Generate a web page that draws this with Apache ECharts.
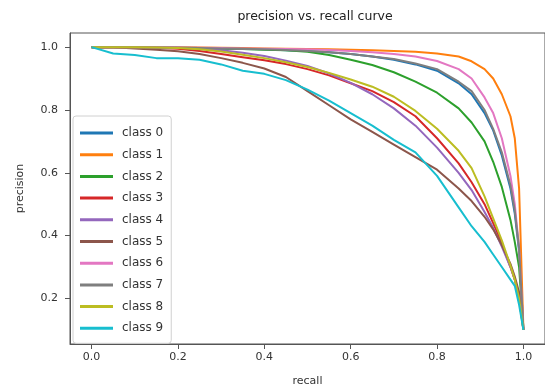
<!DOCTYPE html>
<html>
<head>
<meta charset="utf-8">
<script src="https://cdn.jsdelivr.net/npm/echarts@6/dist/echarts.min.js"></script>
<style>html,body{margin:0;padding:0;background:#fff}#c{width:545px;height:392px}</style>
</head>
<body>
<div id="c"></div>
<script>
const recall = [0, 0.05, 0.1, 0.15, 0.2, 0.25, 0.3, 0.35, 0.4, 0.45, 0.5, 0.55, 0.6, 0.65, 0.7, 0.75, 0.8, 0.85, 0.88, 0.91, 0.93, 0.95, 0.97, 0.98, 0.99, 1.0];
const class0 = [1,1,1,0.998,0.997,0.996,0.995,0.994,0.993,0.99,0.988,0.984,0.978,0.97,0.96,0.945,0.925,0.885,0.85,0.79,0.735,0.655,0.55,0.47,0.35,0.1];
const class1 = [1,1,1,1,1,0.999,0.998,0.997,0.996,0.995,0.994,0.993,0.992,0.99,0.988,0.985,0.98,0.97,0.955,0.93,0.9,0.85,0.78,0.71,0.55,0.1];
const class2 = [1,1,1,0.999,0.998,0.997,0.996,0.994,0.992,0.99,0.985,0.975,0.96,0.943,0.92,0.89,0.855,0.805,0.76,0.7,0.635,0.555,0.45,0.38,0.3,0.1];
const class3 = [1,1,0.999,0.998,0.995,0.988,0.978,0.968,0.958,0.946,0.93,0.91,0.885,0.86,0.825,0.78,0.71,0.63,0.57,0.5,0.44,0.375,0.3,0.26,0.2,0.1];
const class4 = [1,1,1,0.999,0.998,0.995,0.99,0.982,0.972,0.957,0.94,0.916,0.886,0.85,0.805,0.75,0.68,0.6,0.545,0.475,0.425,0.365,0.3,0.26,0.21,0.1];
const class5 = [1,1,0.996,0.992,0.987,0.978,0.965,0.95,0.932,0.905,0.86,0.815,0.77,0.73,0.69,0.65,0.61,0.55,0.51,0.46,0.42,0.37,0.31,0.27,0.22,0.1];
const class6 = [1,1,1,1,0.999,0.998,0.997,0.996,0.995,0.994,0.993,0.991,0.988,0.984,0.978,0.97,0.956,0.93,0.9,0.84,0.79,0.71,0.59,0.5,0.36,0.1];
const class7 = [1,1,1,0.999,0.998,0.997,0.996,0.995,0.993,0.991,0.988,0.984,0.978,0.97,0.962,0.948,0.93,0.89,0.86,0.8,0.74,0.665,0.56,0.48,0.36,0.1];
const class8 = [1,1,1,0.999,0.997,0.993,0.986,0.976,0.965,0.952,0.937,0.918,0.897,0.874,0.842,0.797,0.74,0.67,0.615,0.525,0.455,0.385,0.305,0.26,0.2,0.1];
const class9 = [1,0.98,0.975,0.965,0.965,0.96,0.945,0.925,0.915,0.895,0.865,0.83,0.79,0.75,0.705,0.665,0.59,0.49,0.43,0.38,0.34,0.3,0.26,0.24,0.18,0.1];

const names = ['class 0','class 1','class 2','class 3','class 4','class 5','class 6','class 7','class 8','class 9'];
const precisions = [class0,class1,class2,class3,class4,class5,class6,class7,class8,class9];
const colors = ['#1f77b4','#ff7f0e','#2ca02c','#d62728','#9467bd','#8c564b','#e377c2','#7f7f7f','#bcbd22','#17becf'];
const xTicks = [0, 0.2, 0.4, 0.6, 0.8, 1.0];
const yTicks = [0.2, 0.4, 0.6, 0.8, 1.0];

const font = 'DejaVu Sans';
const chart = echarts.init(document.getElementById('c'), null, {renderer:'canvas'});
chart.setOption({
  animation: false,
  color: colors,
  title: {
    text: 'precision vs. recall curve',
    left: 310, top: 5, textAlign: 'center',
    textStyle: {fontFamily: font, fontSize: 12.5, fontWeight: 'normal', color: '#222'}
  },
  legend: {
    orient: 'vertical', left: 73, top: 116,
    data: names,
    icon: 'rect', itemWidth: 33, itemHeight: 3, itemGap: 5.7,
    padding: [9, 8, 7, 7],
    backgroundColor: 'rgba(255,255,255,0.85)',
    borderColor: '#d0d0d0', borderWidth: 1, borderRadius: 3,
    textStyle: {fontFamily: font, fontSize: 12, color: '#333', lineHeight: 16, padding: [0,0,0,4]}
  },
  grid: {left: 70, top: 33, width: 480, height: 317, show: true, borderColor: '#555', borderWidth: 1},
  xAxis: {
    type: 'value', min: -0.05, max: 1.05,
    name: 'recall', nameLocation: 'middle', nameGap: 32,
    nameTextStyle: {fontFamily: font, fontSize: 11, color: '#333'},
    axisLine: {show: true, onZero: false, lineStyle: {color: '#555'}},
    axisTick: {show: true, length: 5, customValues: xTicks, lineStyle: {color: '#555'}},
    axisLabel: {customValues: xTicks, margin: 8, fontFamily: font, fontSize: 11, color: '#333', formatter: v => v.toFixed(1)},
    splitLine: {show: false}
  },
  yAxis: {
    type: 'value', min: 0.055, max: 1.045,
    name: 'precision', nameLocation: 'middle', nameGap: 44, nameRotate: 90,
    nameTextStyle: {fontFamily: font, fontSize: 11, color: '#333'},
    axisLine: {show: true, onZero: false, lineStyle: {color: '#555'}},
    axisTick: {show: true, length: 5, customValues: yTicks, lineStyle: {color: '#555'}},
    axisLabel: {customValues: yTicks, margin: 12, fontFamily: font, fontSize: 11, color: '#333', formatter: v => v.toFixed(1)},
    splitLine: {show: false}
  },
  series: names.map((n, i) => ({
    name: n, type: 'line', showSymbol: false, symbol: 'none',
    lineStyle: {width: 2, color: colors[i]},
    itemStyle: {color: colors[i]},
    data: recall.map((r, j) => [r, precisions[i][j]])
  }))
});
</script>
</body>
</html>
